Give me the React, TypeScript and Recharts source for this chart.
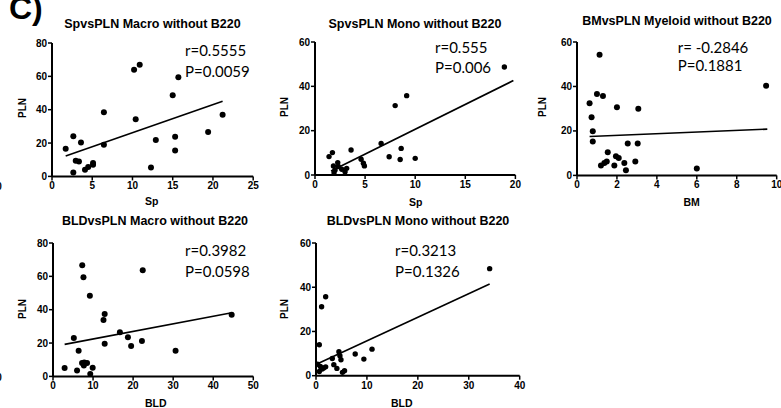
import React from 'react'
import { ScatterChart, Scatter, XAxis, YAxis, ReferenceLine } from 'recharts'

type Pt = [number, number]

// values: [x, PLN]
const spMacro: Pt[] = [
  [1.7, 16.6], [2.65, 24], [2.65, 2.4], [3.6, 20.4], [2.95, 9.4], [3.35, 9],
  [4.1, 4], [4.5, 5.6], [5.1, 8], [5.1, 7], [6.45, 19], [6.45, 38.5],
  [10.2, 64], [10.9, 67], [10.4, 34.2], [12.3, 5.4], [12.9, 21.8], [15.0, 48.7],
  [15.7, 59.5], [15.3, 23.8], [15.3, 15.6], [19.4, 26.6], [21.2, 37],
]
const spMacroFit: Pt[] = [[1.7, 12.2], [21.2, 45]]

const spMono: Pt[] = [
  [1.4, 8.3], [1.74, 10.1], [2.27, 5.6], [1.84, 4.1], [2.33, 3.8], [2.0, 2.3],
  [1.9, 1], [2.67, 2.6], [3.0, 1.5], [3.16, 3.0], [3.6, 11.3], [4.6, 7.1],
  [4.83, 5.3], [4.93, 4.1], [6.6, 14.2], [7.4, 8.2], [8.0, 31.3], [9.15, 35.8],
  [8.6, 12], [8.5, 7], [10.0, 7.5], [18.9, 48.7],
]
const spMonoFit: Pt[] = [[1.6, 1.8], [19.8, 42.6]]

const bmMyeloid: Pt[] = [
  [0.63, 32.5], [0.73, 26.2], [0.79, 19.8], [0.79, 15.3], [1.0, 36.6], [1.13, 54.3],
  [1.3, 35.7], [1.2, 4.4], [1.37, 5.6], [1.49, 6.3], [1.54, 10.4], [1.87, 4.4],
  [1.95, 8.6], [2.09, 7.8], [2.0, 30.7], [2.37, 5.6], [2.45, 2.3], [2.54, 14.3],
  [2.92, 6.3], [3.04, 14.3], [3.07, 30], [6.0, 3.1], [9.47, 40.3],
]
const bmMyeloidFit: Pt[] = [[0.63, 17.5], [9.53, 20.8]]

const bldMacro: Pt[] = [
  [2.9, 5], [5.2, 23], [6.0, 3.6], [6.4, 15.4], [7.25, 8], [7.8, 8.4], [8.5, 8],
  [7.7, 6.6], [9.9, 5.2], [9.3, 1.4], [7.3, 66.6], [7.6, 59.4], [9.2, 48.4],
  [12.6, 33.8], [12.9, 37.4], [12.9, 19.6], [16.7, 26.4], [18.7, 23.4],
  [19.5, 18.2], [22.2, 21.2], [22.4, 63.6], [30.6, 15.4], [44.6, 37],
]
const bldMacroFit: Pt[] = [[2.9, 19.2], [44.3, 38]]

const bldMono: Pt[] = [
  [0.3, 5.2], [0.65, 1.9], [0.85, 4.2], [1.2, 3], [1.5, 3.5], [1.9, 4],
  [0.65, 14], [1.1, 31.2], [1.9, 35.7], [3.2, 7.8], [3.5, 5], [4.1, 3.3],
  [4.5, 10.8], [4.7, 9], [4.9, 7.2], [5.2, 1.5], [5.6, 2.2], [7.7, 9.8],
  [9.4, 7.5], [11.0, 12], [34.1, 48.4],
]
const bldMonoFit: Pt[] = [[0.4, 5.5], [34.1, 41.5]]

const ticks0to25 = [0, 5, 10, 15, 20, 25]
const ticks0to20 = [0, 5, 10, 15, 20]
const ticks0to10 = [0, 2, 4, 6, 8, 10]
const ticks0to50 = [0, 10, 20, 30, 40, 50]
const ticks0to40 = [0, 10, 20, 30, 40]
const yTicks80 = [0, 20, 40, 60, 80]
const yTicks60 = [0, 20, 40, 60]

const SANS = '"Liberation Sans", Arial, sans-serif'
const STAT = 'Lato, "Open Sans", sans-serif'

interface PlotBox { left: number; top: number; right: number; bottom: number }

interface PanelProps {
  box: PlotBox
  points: Pt[]
  fit: Pt[]
  xTicks: number[]
  yTicks: number[]
  dotR: number
}

const PAD_L = 40
const PAD_R = 18
const PAD_T = 10
const PAD_B = 24

function Panel({ box, points, fit, xTicks, yTicks, dotR }: PanelProps) {
  const w = box.right - box.left + PAD_L + PAD_R
  const h = box.bottom - box.top + PAD_T + PAD_B
  const data = points.map(([x, y]) => ({ x, y }))
  const tick = { fill: '#000', fontSize: 10, fontWeight: 700, fontFamily: SANS }
  const axisLine = { stroke: '#000', strokeWidth: 2 }
  const tickLine = { stroke: '#000', strokeWidth: 1.5 }
  return (
    <div style={{ position: 'absolute', left: box.left - PAD_L, top: box.top - PAD_T }}>
      <ScatterChart width={w} height={h} margin={{ top: PAD_T, right: PAD_R, bottom: 0, left: 0 }}>
        <XAxis
          type="number"
          dataKey="x"
          domain={[xTicks[0], xTicks[xTicks.length - 1]]}
          ticks={xTicks}
          interval={0}
          height={PAD_B}
          tickSize={4}
          tickMargin={2}
          tick={tick}
          axisLine={axisLine}
          tickLine={tickLine}
          allowDataOverflow
        />
        <YAxis
          type="number"
          dataKey="y"
          domain={[yTicks[0], yTicks[yTicks.length - 1]]}
          ticks={yTicks}
          interval={0}
          width={PAD_L}
          tickSize={4}
          tickMargin={1}
          tick={tick}
          axisLine={axisLine}
          tickLine={tickLine}
          allowDataOverflow
        />
        <ReferenceLine
          segment={[{ x: fit[0][0], y: fit[0][1] }, { x: fit[1][0], y: fit[1][1] }]}
          stroke="#000"
          strokeWidth={1.6}
        />
        <Scatter
          data={data}
          isAnimationActive={false}
          shape={(p: any) => <circle cx={p.cx} cy={p.cy} r={dotR} fill="#000" />}
        />
      </ScatterChart>
    </div>
  )
}

function Txt({ x, y, size, children, weight = 700, family = SANS, rotate = false, left = false }: {
  x: number; y: number; size: number; children: React.ReactNode
  weight?: number; family?: string; rotate?: boolean; left?: boolean
}) {
  return (
    <div
      style={{
        position: 'absolute',
        left: x,
        top: y,
        transform: `translate(${left ? '0' : '-50%'}, -50%)${rotate ? ' rotate(-90deg)' : ''}`,
        fontSize: size,
        fontWeight: weight,
        fontFamily: family,
        lineHeight: 1,
        whiteSpace: 'nowrap',
        color: '#000',
      }}
    >
      {children}
    </div>
  )
}

export default function App() {
  return (
    <div style={{ position: 'absolute', left: 0, top: 0, width: 781, height: 408, overflow: 'hidden', background: '#fff' }}>
      <Panel box={{ left: 52.3, top: 43.3, right: 253.5, bottom: 176.7 }} points={spMacro} fit={spMacroFit} xTicks={ticks0to25} yTicks={yTicks80} dotR={3} />
      <Panel box={{ left: 315.3, top: 42.3, right: 515.7, bottom: 175.3 }} points={spMono} fit={spMonoFit} xTicks={ticks0to20} yTicks={yTicks60} dotR={2.7} />
      <Panel box={{ left: 577, top: 42.3, right: 776.7, bottom: 175.7 }} points={bmMyeloid} fit={bmMyeloidFit} xTicks={ticks0to10} yTicks={yTicks60} dotR={3} />
      <Panel box={{ left: 53, top: 243.3, right: 253.3, bottom: 376.7 }} points={bldMacro} fit={bldMacroFit} xTicks={ticks0to50} yTicks={yTicks80} dotR={3} />
      <Panel box={{ left: 316, top: 243.3, right: 519.7, bottom: 376 }} points={bldMono} fit={bldMonoFit} xTicks={ticks0to40} yTicks={yTicks60} dotR={2.7} />

      <Txt x={9} y={8} size={32} left>C)</Txt>

      <Txt x={152.5} y={23.5} size={12.5}>SpvsPLN Macro without B220</Txt>
      <Txt x={415} y={23.5} size={12.5}>SpvsPLN Mono without B220</Txt>
      <Txt x={677} y={20.5} size={12.5}>BMvsPLN Myeloid without B220</Txt>
      <Txt x={155} y={221} size={12.5}>BLDvsPLN Macro without B220</Txt>
      <Txt x={418} y={221} size={12.5}>BLDvsPLN Mono without B220</Txt>

      <Txt x={23.3} y={108} size={10} rotate>PLN</Txt>
      <Txt x={285} y={107} size={10} rotate>PLN</Txt>
      <Txt x={543.3} y={107} size={10} rotate>PLN</Txt>
      <Txt x={23.3} y={309} size={10} rotate>PLN</Txt>
      <Txt x={285} y={309} size={10} rotate>PLN</Txt>

      <Txt x={151.7} y={200.5} size={10.5}>Sp</Txt>
      <Txt x={415.7} y={201.5} size={10.5}>Sp</Txt>
      <Txt x={691.7} y={201.5} size={10.5}>BM</Txt>
      <Txt x={155.7} y={403} size={10.5}>BLD</Txt>
      <Txt x={401.7} y={403} size={10.5}>BLD</Txt>

      <Txt x={185} y={50} size={15} weight={400} family={STAT} left>r=0.5555</Txt>
      <Txt x={185} y={70.5} size={15} weight={400} family={STAT} left>P=0.0059</Txt>
      <Txt x={435} y={47} size={15} weight={400} family={STAT} left>r=0.555</Txt>
      <Txt x={435} y={67} size={15} weight={400} family={STAT} left>P=0.006</Txt>
      <Txt x={677.7} y={47} size={15} weight={400} family={STAT} left>r= -0.2846</Txt>
      <Txt x={677.7} y={65} size={15} weight={400} family={STAT} left>P=0.1881</Txt>
      <Txt x={185} y={250} size={15} weight={400} family={STAT} left>r=0.3982</Txt>
      <Txt x={185} y={271} size={15} weight={400} family={STAT} left>P=0.0598</Txt>
      <Txt x={395} y={250} size={15} weight={400} family={STAT} left>r=0.3213</Txt>
      <Txt x={395} y={271} size={15} weight={400} family={STAT} left>P=0.1326</Txt>

      <Txt x={-1} y={187} size={10}>0</Txt>
      <Txt x={-1} y={378} size={10}>0</Txt>
    </div>
  )
}
